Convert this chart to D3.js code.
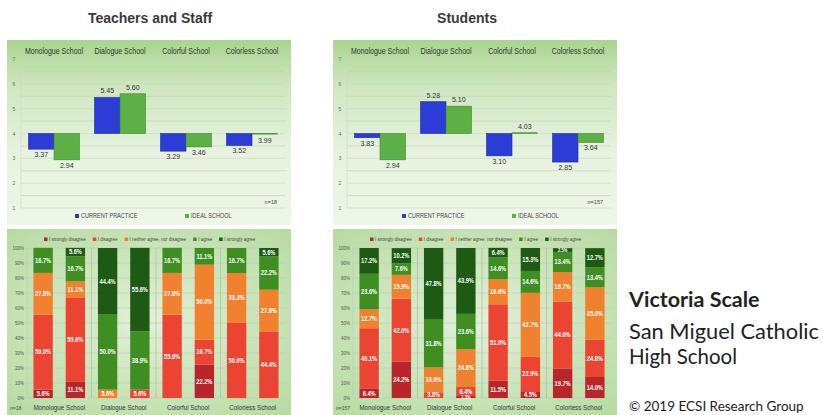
<!DOCTYPE html>
<html><head><meta charset="utf-8">
<script src="https://cdn.jsdelivr.net/npm/d3@7"></script>
<style>
html,body{margin:0;padding:0;background:#fff;}
svg{display:block;}
</style></head>
<body>
<svg id="c" width="823" height="415"></svg>
<script>
// ---------- DATA ----------
const categories = ["Monologue School", "Dialogue School", "Colorful School", "Colorless School"];
const seriesNames = ["CURRENT PRACTICE", "IDEAL SCHOOL"];
const teacherCurrent = [3.37, 5.45, 3.29, 3.52];
const teacherIdeal   = [2.94, 5.60, 3.46, 3.99];
const studentCurrent = [3.83, 5.28, 3.10, 2.85];
const studentIdeal   = [2.94, 5.10, 4.03, 3.64];
const meanTicks = [1, 2, 3, 4, 5, 6, 7];
const levels = ["I strongly disagree", "I disagree", "I neither agree, nor disagree", "I agree", "I strongly agree"];
// each row: one bar (school x [current, ideal]); columns follow levels
const teacherDist = [
  [5.6, 50.0, 27.8, 16.7, 0],
  [11.1, 55.6, 11.1, 16.7, 5.6],
  [0, 0, 5.6, 50.0, 44.4],
  [0, 5.6, 0, 38.9, 55.6],
  [0, 55.6, 27.8, 16.7, 0],
  [22.2, 16.7, 50.0, 11.1, 0],
  [0, 50.0, 33.3, 16.7, 0],
  [0, 44.4, 27.8, 22.2, 5.6]
];
const studentDist = [
  [6.4, 40.1, 12.7, 23.6, 17.2],
  [24.2, 42.0, 15.9, 7.6, 10.2],
  [0, 3.8, 16.6, 31.8, 47.8],
  [1.3, 6.4, 24.8, 23.6, 43.9],
  [11.5, 51.0, 16.6, 14.6, 6.4],
  [4.5, 22.9, 42.7, 14.6, 15.3],
  [19.7, 44.6, 19.7, 13.4, 2.5],
  [14.0, 24.8, 35.0, 13.4, 12.7]
];
const pctTicks = [0, 10, 20, 30, 40, 50, 60, 70, 80, 90, 100];
const teacherN = "n=18";
const studentN = "n=157";

// ---------- STYLE ----------
const seriesColors = ["#2b3dd6", "#5db045"];
const levelColors = ["#b8252a", "#ec4433", "#f1812f", "#3e8e22", "#1d5b15"];
const sans = "'Liberation Sans',Arial,sans-serif";

const svg = d3.select("#c");
const defs = svg.append("defs");
const g1 = defs.append("linearGradient").attr("id", "gTop").attr("x1", 0).attr("y1", 0).attr("x2", 0).attr("y2", 1);
g1.append("stop").attr("offset", "0%").attr("stop-color", "#a9d48f");
g1.append("stop").attr("offset", "25%").attr("stop-color", "#cfe7c0");
g1.append("stop").attr("offset", "60%").attr("stop-color", "#e6f2de");
g1.append("stop").attr("offset", "100%").attr("stop-color", "#eef6e8");
const g2 = defs.append("radialGradient").attr("id", "gBot").attr("cx", "50%").attr("cy", "50%").attr("r", "70%");
g2.append("stop").attr("offset", "0%").attr("stop-color", "#e2f0d8");
g2.append("stop").attr("offset", "100%").attr("stop-color", "#b6dba0");

// condense text horizontally (mimics a narrow font); returns the new length
function condense(sel, f) {
  let last = 0;
  sel.each(function () {
    const L = this.getComputedTextLength();
    last = L * f;
    if (L > 0) d3.select(this).attr("textLength", L * f).attr("lengthAdjust", "spacingAndGlyphs");
  });
  return last;
}

// titles
svg.append("text").attr("x", 150).attr("y", 23).attr("text-anchor", "middle")
  .attr("font-family", sans).attr("font-weight", "bold")
  .attr("font-size", 14).attr("fill", "#3a3a3a").text("Teachers and Staff");
svg.append("text").attr("x", 467).attr("y", 23).attr("text-anchor", "middle")
  .attr("font-family", sans).attr("font-weight", "bold")
  .attr("font-size", 14).attr("fill", "#3a3a3a").text("Students");

function meanChart(px, cur, ideal, nText, legendX) {
  const W = 284, top = 40, bottom = 225;
  svg.append("rect").attr("x", px).attr("y", top).attr("width", W).attr("height", bottom - top).attr("fill", "url(#gTop)");
  const y = d3.scaleLinear().domain([1, 7]).range([208, 59]);
  const x0 = d3.scaleBand().domain(categories).range([px + 14, px + 278]);
  const inset = (x0.bandwidth() - 51) / 2;
  const x1 = d3.scaleBand().domain(seriesNames).range([inset, x0.bandwidth() - inset]);
  const g = svg.append("g");
  const halfTicks = d3.range(1, 7.01, 0.5);
  g.selectAll("line.grid").data(halfTicks).join("line")
    .attr("x1", px + 14).attr("x2", px + 278)
    .attr("y1", d => y(d)).attr("y2", d => y(d))
    .attr("stroke", d => Number.isInteger(d) ? "#c9d8c2" : "#bfcfb9").attr("stroke-width", 0.6);
  g.append("line").attr("x1", px + 14).attr("x2", px + 14).attr("y1", y(1)).attr("y2", y(7)).attr("stroke", "#c9d8c2").attr("stroke-width", 0.6);
  g.selectAll("text.yt").data(meanTicks).join("text")
    .attr("x", px + 7).attr("y", d => y(d) + 2).attr("text-anchor", "middle")
    .attr("font-family", sans).attr("font-size", 5).attr("fill", "#666").text(d => d);
  condense(g.selectAll("text.cat").data(categories).join("text")
    .attr("x", d => x0(d) + x0.bandwidth() / 2).attr("y", 53.5).attr("text-anchor", "middle")
    .attr("font-family", sans).attr("font-size", 9).attr("fill", "#333").text(d => d), 0.78);
  const rows = categories.map((c, i) => ({ c, vals: [cur[i], ideal[i]] }));
  const grp = g.selectAll("g.grp").data(rows).join("g").attr("transform", d => `translate(${x0(d.c)},0)`);
  grp.selectAll("rect").data(d => d.vals.map((v, j) => ({ v, s: seriesNames[j] }))).join("rect")
    .attr("x", d => x1(d.s)).attr("width", x1.bandwidth())
    .attr("y", d => Math.min(y(d.v), y(4))).attr("height", d => Math.max(0.6, Math.abs(y(d.v) - y(4))))
    .attr("fill", (d, j) => seriesColors[j]).attr("stroke", (d, j) => j === 0 ? "#1c2aa0" : "#3f8a2c").attr("stroke-width", 0.6);
  condense(grp.selectAll("text").data(d => d.vals.map((v, j) => ({ v, s: seriesNames[j] }))).join("text")
    .attr("x", d => x1(d.s) + x1.bandwidth() / 2)
    .attr("y", d => d.v >= 4 ? y(d.v) - 4 : Math.max(y(d.v), y(4) + 1) + 8)
    .attr("text-anchor", "middle").attr("font-family", sans).attr("font-size", 7.8).attr("fill", "#333")
    .text(d => d.v.toFixed(2)), 0.9);
  const lg = g.append("g").attr("transform", `translate(${legendX},218)`);
  seriesNames.forEach((s, j) => {
    const lx = j * 110;
    lg.append("rect").attr("x", lx).attr("y", -4).attr("width", 4).attr("height", 4).attr("fill", seriesColors[j]);
    condense(lg.append("text").attr("x", lx + 6).attr("y", 0).attr("font-family", sans).attr("font-size", 6.5)
      .attr("fill", "#444").text(s), 0.85);
  });
  g.append("text").attr("x", px + 270).attr("y", 204).attr("text-anchor", "end").attr("font-family", sans)
    .attr("font-size", 5.5).attr("fill", "#444").text(nText);
}

function distChart(px, dist, nText) {
  const W = 284, top = 229, bottom = 415;
  svg.append("rect").attr("x", px).attr("y", top).attr("width", W).attr("height", bottom - top).attr("fill", "url(#gBot)");
  const y = d3.scaleLinear().domain([0, 100]).range([398, 248]);
  const x = d3.scaleBand().domain(d3.range(dist.length)).range([px + 20, px + 278]).paddingInner(0.4).paddingOuter(0.2);
  const g = svg.append("g");
  g.selectAll("line.grid").data(pctTicks).join("line")
    .attr("x1", px + 20).attr("x2", px + 278).attr("y1", d => y(d)).attr("y2", d => y(d))
    .attr("stroke", "#b9cdb1").attr("stroke-width", 0.6);
  g.selectAll("text.yt").data(pctTicks).join("text")
    .attr("x", px + 17).attr("y", d => y(d) + 1.8).attr("text-anchor", "end")
    .attr("font-family", sans).attr("font-size", 4.5).attr("fill", "#555").text(d => d + "%");
  const seps = [1, 3, 5].map(i => (x(i) + x.bandwidth() + x(i + 1)) / 2);
  g.selectAll("line.sep").data(seps).join("line")
    .attr("x1", d => d).attr("x2", d => d).attr("y1", y(0)).attr("y2", y(100))
    .attr("stroke", "#a9bea3").attr("stroke-width", 0.7);
  g.append("line").attr("x1", px + 20).attr("x2", px + 20).attr("y1", y(0)).attr("y2", y(100)).attr("stroke", "#b9cdb1").attr("stroke-width", 0.6);
  const table = dist.map((r, i) => { const o = { i }; levels.forEach((l, k) => o[l] = r[k]); return o; });
  const stack = d3.stack().keys(levels)(table);
  stack.forEach((layer, k) => {
    g.selectAll(null).data(layer.filter(d => d[1] - d[0] > 0)).join("rect")
      .attr("x", d => x(d.data.i)).attr("width", x.bandwidth())
      .attr("y", d => y(d[1])).attr("height", d => y(d[0]) - y(d[1]))
      .attr("fill", levelColors[k]);
  });
  stack.forEach((layer, k) => {
    condense(g.selectAll(null).data(layer.filter(d => d[1] - d[0] > 0)).join("text")
      .attr("x", d => x(d.data.i) + x.bandwidth() / 2)
      .attr("y", d => {
        const h = y(d[0]) - y(d[1]);
        if (h < 4) return y(d[0]) + 0.5;
        return Math.min(y(d[0]) - 1.5, (y(d[0]) + y(d[1])) / 2 + 2.3);
      })
      .attr("text-anchor", "middle").attr("font-family", sans).attr("font-weight", "bold")
      .attr("font-size", d => (y(d[0]) - y(d[1])) < 4 ? 4.5 : 6.3).attr("fill", "#fff")
      .text(d => (d[1] - d[0]).toFixed(1) + "%"), 0.9);
  });
  condense(g.selectAll("text.cat").data(categories).join("text")
    .attr("x", (d, i) => (x(2 * i) + x(2 * i + 1) + x.bandwidth()) / 2).attr("y", 410)
    .attr("text-anchor", "middle").attr("font-family", sans).attr("font-size", 7.8).attr("fill", "#333").text(d => d), 0.8);
  g.append("text").attr("x", px + 3).attr("y", 410).attr("font-family", sans).attr("font-size", 5)
    .attr("fill", "#444").text(nText);
  const lg = g.append("g").attr("transform", `translate(${px + 37},241)`);
  let lx = 0;
  levels.forEach((l, k) => {
    lg.append("rect").attr("x", lx).attr("y", -3.5).attr("width", 3.5).attr("height", 3.5).attr("fill", levelColors[k]);
    const t = lg.append("text").attr("x", lx + 5).attr("y", 0).attr("font-family", sans).attr("font-size", 5.3)
      .attr("fill", "#444").text(l);
    const w = condense(t, 0.85);
    lx += 5 + w + 7;
  });
}

meanChart(7, teacherCurrent, teacherIdeal, teacherN, 75);
meanChart(333, studentCurrent, studentIdeal, studentN, 402);
distChart(7, teacherDist, teacherN);
distChart(333, studentDist, studentN);

// side text
const side = svg.append("g").attr("font-family", "Lato,'Open Sans',sans-serif").attr("fill", "#222");
side.append("text").attr("x", 629).attr("y", 307).attr("font-weight", "bold").attr("font-size", 21.5).text("Victoria Scale");
side.append("text").attr("x", 629).attr("y", 339).attr("font-weight", 400).attr("font-size", 20.5)
  .attr("textLength", 190).attr("lengthAdjust", "spacingAndGlyphs").text("San Miguel Catholic");
side.append("text").attr("x", 629).attr("y", 364).attr("font-weight", 400).attr("font-size", 20.5)
  .attr("textLength", 108).attr("lengthAdjust", "spacingAndGlyphs").text("High School");
side.append("text").attr("x", 629).attr("y", 411).attr("font-size", 13.5).text("© 2019 ECSI Research Group");
</script>
</body></html>
